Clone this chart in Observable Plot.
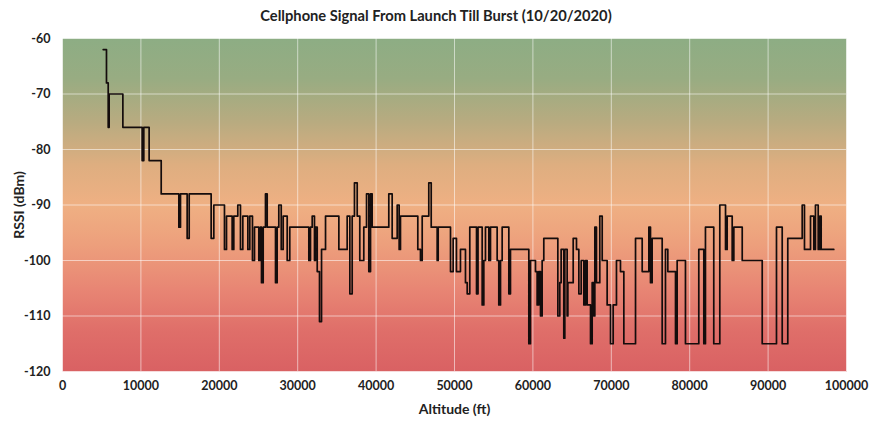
<!DOCTYPE html>
<html>
<head>
<meta charset="utf-8">
<script src="https://cdn.jsdelivr.net/npm/d3@7"></script>
<script src="https://cdn.jsdelivr.net/npm/@observablehq/plot@0.6"></script>
<style>
  html, body { margin: 0; padding: 0; background: #fff; }
  #wrap { position: relative; width: 872px; height: 423px; font-family: Lato, "Open Sans", sans-serif; }
  #title { position: absolute; left: 0; width: 872px; top: 6px; text-align: center; font-weight: 700; font-size: 14.7px; color: #222; }
  #chart { position: absolute; left: 0; top: 0; }
  g[aria-label="x-axis label"] text, g[aria-label="y-axis label"] text { font-size: 14px; }
</style>
</head>
<body>
<div id="wrap">
  <div id="chart"></div>
  <div id="title">Cellphone Signal From Launch Till Burst (10/20/2020)</div>
</div>
<script>
// Step changes: each RSSI value holds from its altitude until the next altitude
const altitude = [
  5190, 5610, 5830, 5950, 7700, 10160, 10370, 11050, 12590,
  14840, 15050, 15900, 16160, 18960, 19300, 20660, 20920, 21640, 21850,
  22360, 22700, 23000, 23640, 23890, 24230, 24490, 25040, 25250, 25380,
  25600, 25890, 26110, 27170, 27380, 27590, 27900, 28150, 28660, 28990,
  31420, 31630, 31850, 32140, 32270, 32490, 32780, 33040, 33550, 35250,
  36310, 36650, 36950, 37240, 37590, 37920, 38430, 38780, 39070, 39290,
  39500, 41620, 42050, 42690, 42940, 43110, 45320, 45660, 45880, 46720,
  47030, 47790, 47920,
  49490, 49830, 50250, 50760, 51400, 51620, 51950, 52810, 53000, 53530,
  53740, 53950, 54380, 54590, 55440, 55650, 55870, 56080, 56930, 57140,
  59480, 59690, 60330, 60540, 60750, 60970, 61180, 61390, 63180, 63430,
  63600, 63940, 64070, 64370, 64460, 65140, 65560, 65860, 66160, 66500,
  66710, 66920, 67350, 67560, 67770, 67900, 68110, 68530, 68840, 69470,
  69900, 70240, 70660, 71170, 71600, 73090, 73940, 74790, 75000, 75210,
  76490, 76910, 77210, 78190, 78400, 79460, 81160, 81800, 82010, 83070,
  83840, 84570, 84780, 85420, 85630, 86700, 89250, 91070, 91800, 92510,
  94350, 94640, 95410, 95830, 96040, 96390, 96600, 96770, 98380
];
const rssi = [
  -62, -68, -76, -70, -76, -82, -76, -82, -88,
  -94, -88, -96, -88, -96, -90, -98, -92, -98, -92,
  -90, -98, -92, -98, -92, -100, -94, -100, -94, -104,
  -94, -88, -94, -104, -94, -90, -98, -92, -100, -94,
  -100, -94, -92, -100, -94, -102, -111, -98, -92, -98,
  -92, -106, -92, -86, -92, -100, -94, -88, -102, -88,
  -94, -88, -96, -90, -98, -92, -98, -100, -92, -86,
  -94, -100, -94,
  -102, -96, -102, -98, -104, -106, -94, -106, -94, -108,
  -100, -94, -100, -94, -100, -108, -100, -94, -106, -98,
  -115, -100, -102, -108, -102, -110, -100, -96, -110, -104,
  -98, -114, -98, -110, -104, -96, -98, -106, -100, -108,
  -100, -108, -115, -104, -110, -94, -104, -92, -100, -108,
  -115, -108, -100, -102, -115, -96, -102, -94, -104, -96,
  -115, -98, -102, -115, -100, -115, -98, -115, -94, -115,
  -90, -98, -92, -100, -94, -100, -115, -94, -115, -96,
  -90, -98, -92, -98, -90, -98, -92, -98, -98
];
const xTicks = [0, 10000, 20000, 30000, 40000, 50000, 60000, 70000, 80000, 90000, 100000];
const yTicks = [-120, -110, -100, -90, -80, -70, -60];

const data = altitude.map((a, i) => ({alt: a, rssi: rssi[i]}));

const plot = Plot.plot({
  width: 872,
  height: 423,
  marginLeft: 62,
  marginRight: 26,
  marginTop: 38,
  marginBottom: 52,
  style: {fontFamily: "Lato, 'Open Sans', sans-serif", fontSize: "12.5px", fontWeight: 700, color: "#222", background: "white"},
  x: {domain: [0, 100000]},
  y: {domain: [-120, -60]},
  marks: [
    Plot.frame({fill: "url(#bgGrad)", stroke: "none"}),
    Plot.gridX(xTicks, {stroke: "#fff", strokeOpacity: 0.55, strokeWidth: 1}),
    Plot.gridY(yTicks, {stroke: "#fff", strokeOpacity: 0.55, strokeWidth: 1}),
    Plot.axisX(xTicks, {tickSize: 0, tickPadding: 10, tickFormat: d => String(d), label: "Altitude (ft)", labelAnchor: "center", labelArrow: "none", labelOffset: 42}),
    Plot.axisY(yTicks, {tickSize: 0, tickPadding: 12, tickFormat: d => String(d), label: "RSSI (dBm)", labelAnchor: "center", labelArrow: "none", labelOffset: 48}),
    Plot.line(data, {x: "alt", y: "rssi", curve: "step-after", stroke: "#140c0c", strokeWidth: 1.7})
  ]
});

const ns = "http://www.w3.org/2000/svg";
const defs = document.createElementNS(ns, "defs");
const grad = document.createElementNS(ns, "linearGradient");
grad.setAttribute("id", "bgGrad");
grad.setAttribute("x1", "0"); grad.setAttribute("y1", "0");
grad.setAttribute("x2", "0"); grad.setAttribute("y2", "1");
[[0, "#8dad84"], [0.12, "#98ac82"], [0.25, "#b8ab80"], [0.38, "#deae80"], [0.5, "#efb083"],
 [0.62, "#ed9f7c"], [0.75, "#e88674"], [0.88, "#df6e69"], [1, "#d96163"]].forEach(([o, c]) => {
  const s = document.createElementNS(ns, "stop");
  s.setAttribute("offset", o);
  s.setAttribute("stop-color", c);
  grad.appendChild(s);
});
defs.appendChild(grad);
plot.insertBefore(defs, plot.firstChild);
document.getElementById("chart").appendChild(plot);
</script>
</body>
</html>
